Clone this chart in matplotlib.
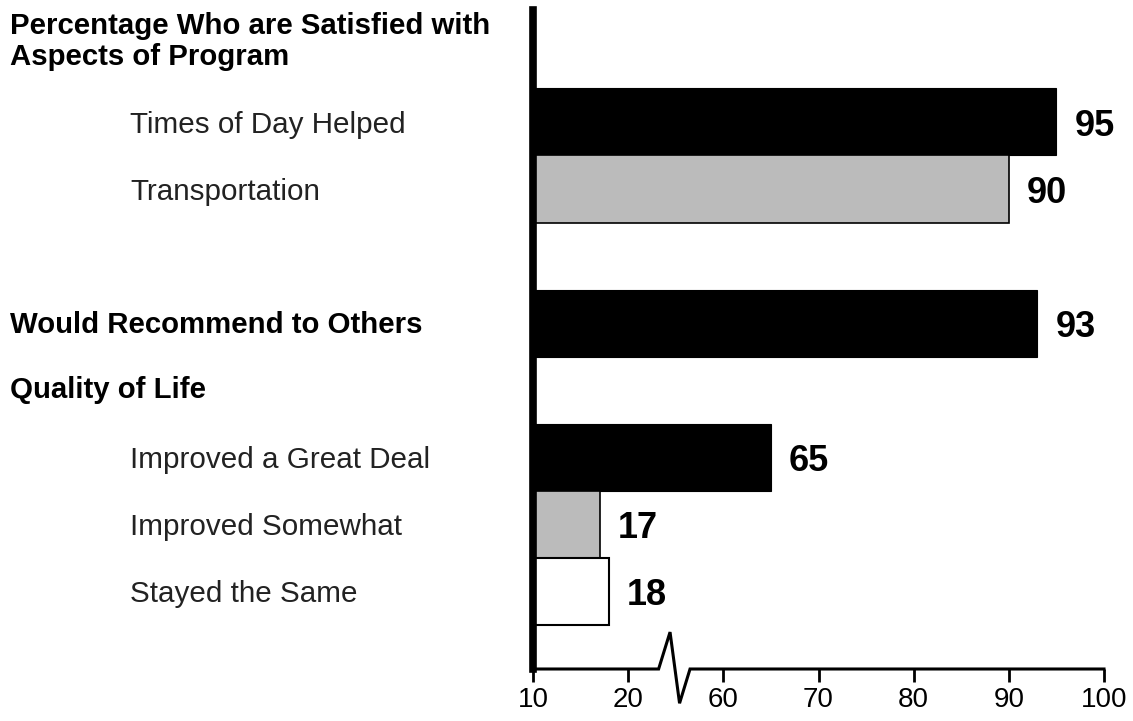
import matplotlib
matplotlib.use('Agg')
import matplotlib.pyplot as plt
import matplotlib.transforms as mtransforms
import numpy as np

# data
categories = ["Times of Day Helped", "Transportation", "Would Recommend to Others",
              "Improved a Great Deal", "Improved Somewhat", "Stayed the Same"]
values = [95, 90, 93, 65, 17, 18]
fills = ["black", "#bbbbbb", "black", "black", "#bbbbbb", "white"]
tick_values = [10, 20, 60, 70, 80, 90, 100]

# layout: row slot of each bar, and which labels are bold headers
rows = [0, 1, 3, 5, 6, 7]
bold_rows = [3]
headers = [("Percentage Who are Satisfied with\nAspects of Program", -1.2),
           ("Quality of Life", 4)]


# broken axis: 20..60 squeezed into the space of 10 units
def fwd(v):
    v = np.asarray(v, dtype=float)
    return np.where(v <= 20, v, np.where(v >= 60, v - 30, 20 + (v - 20) / 4))


def inv(p):
    p = np.asarray(p, dtype=float)
    return np.where(p <= 20, p, np.where(p >= 30, p + 30, 20 + (p - 20) * 4))


plt.rcParams['font.family'] = ['Liberation Sans', 'DejaVu Sans']

fig = plt.figure(figsize=(11.33, 7.21), dpi=100)
ax = fig.add_axes([533 / 1133, 1 - 669 / 721, 571 / 1133, 659 / 721])
ax.set_xscale('function', functions=(fwd, inv))
ax.set_xlim(10, 100)
ax.set_ylim(8.16, -1.67)

for r, v, c in zip(rows, values, fills):
    lw = 0.8 if c == "black" else (1.5 if c == "white" else 1.2)
    ax.barh(r, v - 10, left=10, height=1.0, color=c, edgecolor="black",
            linewidth=lw, zorder=2)
    ax.annotate(str(v), (v, r), xytext=(13, -3), textcoords="offset points",
                ha="left", va="center", fontsize=26, fontweight="bold")

# labels to the left
lab_tr = mtransforms.blended_transform_factory(fig.transFigure, ax.transData)
for r, name in zip(rows, categories):
    if r in bold_rows:
        ax.text(10 / 1133, r + 0.03, name, transform=lab_tr, ha="left", va="center",
                fontsize=21.2, fontweight="bold")
    else:
        ax.text(130 / 1133, r + 0.04, name, transform=lab_tr, ha="left", va="center",
                fontsize=21.3, color="#222222")
for text, r in headers:
    ax.text(10 / 1133, r, text, transform=lab_tr, ha="left", va="center",
            fontsize=21.2, fontweight="bold", linespacing=1.15)

# spines
for s in ["top", "right", "bottom"]:
    ax.spines[s].set_visible(False)
ax.spines["left"].set_linewidth(5.5)
ax.spines["left"].set_zorder(3)
ax.set_yticks([])

ax.set_xticks(tick_values)
ax.set_xticklabels([str(t) for t in tick_values])
ax.tick_params(axis="x", direction="out", length=9, width=2, labelsize=20, pad=4)
ax.xaxis.set_minor_locator(matplotlib.ticker.NullLocator())

# bottom axis with the zigzag break
xt = ax.get_xaxis_transform()
bx = [10, 32.8, 37.6, 41.6, 46, 100]
by = [0, 0, 0.056, -0.052, 0, 0]
ax.plot(bx, by, color="black", linewidth=2.2, transform=xt, clip_on=False,
        solid_joinstyle="miter", zorder=3)

fig.savefig("out.png", dpi=100)
